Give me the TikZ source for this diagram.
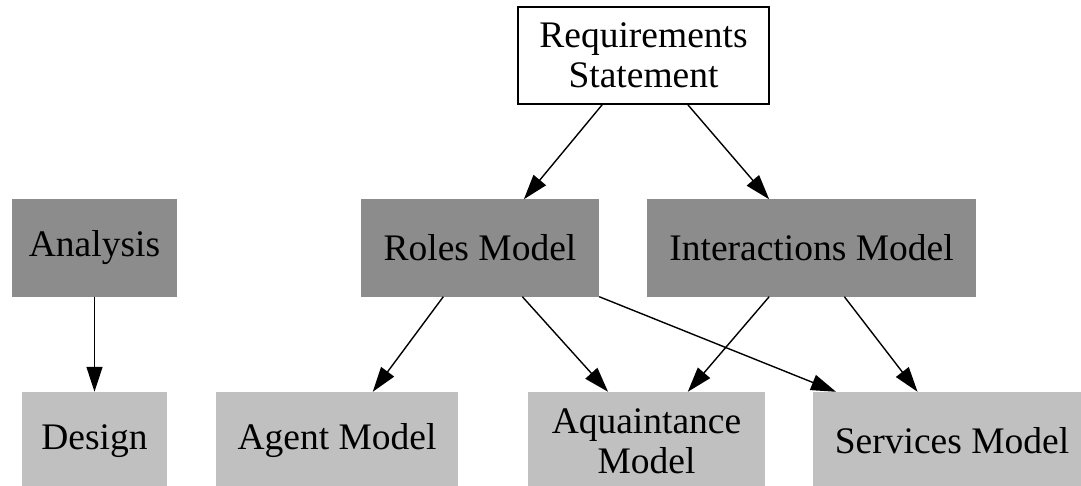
\documentclass[tikz,border=0pt]{standalone}
\usepackage{fontspec}
\setmainfont{Liberation Serif}
\usetikzlibrary{arrows.meta}
\definecolor{darkbox}{RGB}{140,140,140}
\definecolor{lightbox}{RGB}{192,192,192}
\begin{document}
\begin{tikzpicture}[x=1pt,y=-1pt,
  box/.style={rectangle, inner sep=0pt, align=center,
    font=\fontsize{37.5}{40}\selectfont},
  stage/.style={box, fill=darkbox, minimum height=97pt},
  product/.style={box, fill=lightbox, minimum height=98pt},
  source/.style={box, draw=black, line width=1.4pt, fill=white},
  link/.style={line width=1.4pt, -{Triangle[length=25pt,width=16pt]}}]
\useasboundingbox (0,0) rectangle (1081,486);

% top: the statement everything starts from
\node[source, minimum width=251pt, minimum height=97pt] (req) at (643.5,55.5) {Requirements\\Statement};

% analysis models
\node[stage, minimum width=165pt] (analysis) at (94.5,248) {Analysis};
\node[stage, minimum width=238pt] (roles) at (480,248) {Roles Model};
\node[stage, minimum width=329pt] (inter) at (811.5,248) {Interactions Model};

% design models
\node[product, minimum width=145pt] (design) at (94.5,441) {Design};
\node[product, minimum width=242pt] (agent) at (337,441) {Agent Model};
\node[product, minimum width=237pt] (aqu) at (646.5,441) {Aquaintance\\Model};
\node[product, minimum width=278pt] (serv) at (952,441) {Services Model};

% connectors
\draw[link] (req.230.1) -- (roles.48.8);
\draw[link] (req.312.5) -- (inter.131.5);
\draw[link] (analysis.south) -- (design.north);
\draw[link] (roles.233.9) -- (agent.54.5);
\draw[link] (roles.311.9) -- (aqu.128.2);
\draw[link] (roles.south east) -- (serv.157.6);
\draw[link] (inter.229.2) -- (aqu.50.4);
\draw[link] (inter.304.9) -- (serv.125.5);
\end{tikzpicture}
\end{document}
